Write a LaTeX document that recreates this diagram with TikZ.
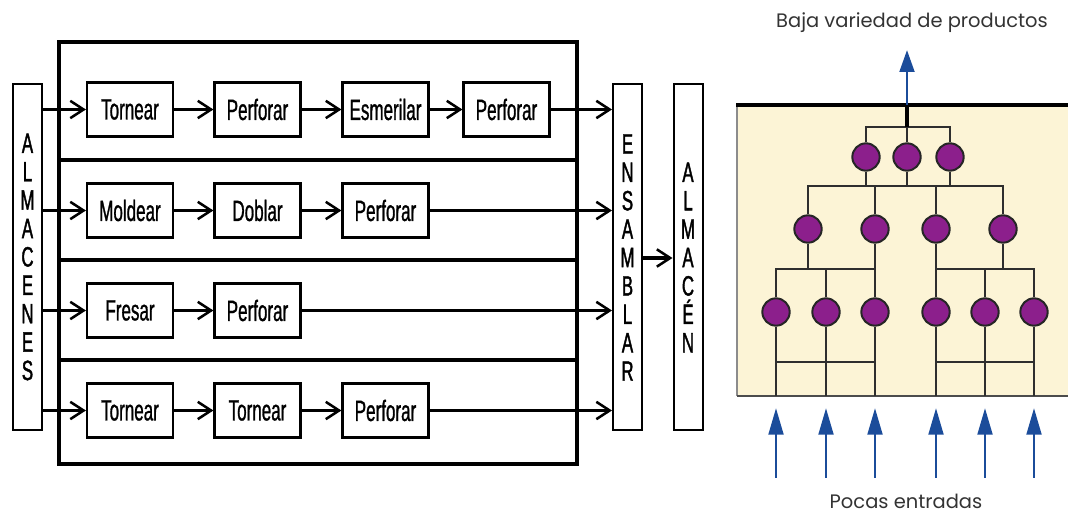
\documentclass[tikz,border=0pt]{standalone}
\usepackage{fontspec}
\setmainfont{Liberation Sans}
\newfontfamily\condfont[FakeStretch=0.58,FakeBold=0.9]{Liberation Sans}
\newfontfamily\stackfont[FakeStretch=0.6,FakeBold=1.4]{Liberation Sans}
\newfontfamily\roundfont{Poppins}
\usetikzlibrary{arrows.meta}
\definecolor{cream}{HTML}{FCF4D6}
\definecolor{plum}{HTML}{8C1F8C}
\definecolor{flowblue}{HTML}{1B4C9A}
\definecolor{wiregray}{HTML}{2E2E2E}

\begin{document}
\begin{tikzpicture}[x=0.75pt,y=-0.75pt,
  proc/.style={draw, line width=1.6pt, minimum width=64.5pt, minimum height=40.5pt,
    inner sep=0pt, font=\condfont\fontsize{22}{24}\selectfont},
  column/.style={draw, line width=1.5pt, minimum width=21.75pt, minimum height=259.5pt,
    inner sep=0pt, align=center, font=\stackfont\fontsize{21}{21.3}\selectfont},
  flow/.style={line width=2.8pt, -{Straight Barb[length=10pt,width=13pt,line width=1.9pt]}},
  frame/.style={line width=3.4pt},
  station/.style={circle, draw=black!85, line width=1.5pt, fill=plum,
    minimum size=20.5pt, inner sep=0pt},
  wire/.style={draw=wiregray, line width=1.7pt},
  feed/.style={draw=flowblue, line width=2.2pt, -{Triangle[length=20pt,width=11pt]}},
  outfeed/.style={draw=flowblue, line width=2.2pt, -{Triangle[length=16.5pt,width=11pt]}},
  caption/.style={font=\roundfont\fontsize{14.6}{17}\selectfont, text=black!80, inner sep=0pt}
]
\useasboundingbox (0,0) rectangle (1068,516);

% ---------- job shop: routes between stores ----------
\draw[frame] (59,42) rectangle (577,464);
\foreach \yy in {160,260,360} \draw[frame] (59,\yy) -- (577,\yy);

\node[column] (alm) at (27.5,257) {A\\L\\M\\A\\C\\E\\N\\E\\S};
\node[column] (ens) at (627.5,257.5) {E\\N\\S\\A\\M\\B\\L\\A\\R};
\node[column] (fin) at (688,257.5) {A\\L\\M\\A\\C\\É\\N};

% route 1
\node[proc] (p11) at (130,109.5) {Tornear};
\node[proc] (p12) at (257.5,109.5) {Perforar};
\node[proc] (p13) at (385.5,109.5) {Esmerilar};
\node[proc] (p14) at (506.5,109.5) {Perforar};
% route 2
\node[proc] (p21) at (130,210.5) {Moldear};
\node[proc] (p22) at (257.5,210.5) {Doblar};
\node[proc] (p23) at (385.5,210.5) {Perforar};
% route 3
\node[proc] (p31) at (130,310.5) {Fresar};
\node[proc] (p32) at (257.5,310.5) {Perforar};
% route 4
\node[proc] (p41) at (130,410.5) {Tornear};
\node[proc] (p42) at (257.5,410.5) {Tornear};
\node[proc] (p43) at (385.5,410.5) {Perforar};

\draw[flow] (alm.east |- p11) -- (p11);
\draw[flow] (p11) -- (p12);
\draw[flow] (p12) -- (p13);
\draw[flow] (p13) -- (p14);
\draw[flow] (p14) -- (ens.west |- p14);

\draw[flow] (alm.east |- p21) -- (p21);
\draw[flow] (p21) -- (p22);
\draw[flow] (p22) -- (p23);
\draw[flow] (p23) -- (ens.west |- p23);

\draw[flow] (alm.east |- p31) -- (p31);
\draw[flow] (p31) -- (p32);
\draw[flow] (p32) -- (ens.west |- p32);

\draw[flow] (alm.east |- p41) -- (p41);
\draw[flow] (p41) -- (p42);
\draw[flow] (p42) -- (p43);
\draw[flow] (p43) -- (ens.west |- p43);

\coordinate (mid) at (650,258);
\draw[flow] (ens.east |- mid) -- (fin.west |- mid);

% ---------- converging product tree ----------
\fill[cream] (737,105) rectangle (1068,396);
\draw[line width=1.2pt, black!45] (737,105) -- (737,396);
\draw[line width=1.6pt, black!70] (737,396) -- (1068,396);
\draw[line width=2.4pt] (736,105) -- (1068,105);

\node[station] (t1) at (866,157) {};
\node[station] (t2) at (907,157) {};
\node[station] (t3) at (950,157) {};

\node[station] (m1) at (808,229) {};
\node[station] (m2) at (875,229) {};
\node[station] (m3) at (936,229) {};
\node[station] (m4) at (1003,229) {};

\node[station] (b1) at (776,312) {};
\node[station] (b2) at (826,312) {};
\node[station] (b3) at (875,312) {};
\node[station] (b4) at (936,312) {};
\node[station] (b5) at (985,312) {};
\node[station] (b6) at (1034,312) {};

\coordinate (jA) at (907,127);
\coordinate (jB) at (907,186);
\coordinate (jC) at (826,269);
\coordinate (jD) at (985,269);
\coordinate (jE) at (826,362);
\coordinate (jF) at (985,362);
\coordinate (top) at (907,105);
\coordinate (outtip) at (907,50);
\coordinate (floor) at (900,396);
\coordinate (inbase) at (900,478);
\coordinate (intip) at (900,408);

% top stage
\draw[wire] (t1.north) |- (jA) -| (t3.north);
\draw[wire] (t2.north) -- (jA);
\draw[line width=2.4pt] (jA) -- (top);
\draw[outfeed] (top) -- (outtip);

% second stage
\draw[wire] (m1.north) |- (jB) -| (m4.north);
\draw[wire] (m2.north) -- (m2 |- jB);
\draw[wire] (m3.north) -- (m3 |- jB);
\draw[wire] (t1.south) -- (t1 |- jB);
\draw[wire] (t2.south) -- (t2 |- jB);
\draw[wire] (t3.south) -- (t3 |- jB);

% third stage
\draw[wire] (b1.north) |- (jC) -| (b3.north);
\draw[wire] (b2.north) -- (jC);
\draw[wire] (m1.south) -- (m1 |- jC);
\draw[wire] (m2.south) -- (b3.north);
\draw[wire] (b4.north) |- (jD) -| (b6.north);
\draw[wire] (b5.north) -- (jD);
\draw[wire] (m4.south) -- (m4 |- jD);
\draw[wire] (m3.south) -- (b4.north);

% inputs
\foreach \b in {b1,b2,b3,b4,b5,b6}
  \draw[wire] (\b.south) -- (\b |- floor);
\draw[wire] (b1 |- jE) -- (b3 |- jE);
\draw[wire] (b4 |- jF) -- (b6 |- jF);
\foreach \b in {b1,b2,b3,b4,b5,b6}
  \draw[feed] (\b |- inbase) -- (\b |- intip);

\node[caption] (outlabel) at (912,23) {Baja variedad de productos};
\node[caption] (inlabel) at (906,501) {Pocas entradas};
\end{tikzpicture}
\end{document}
